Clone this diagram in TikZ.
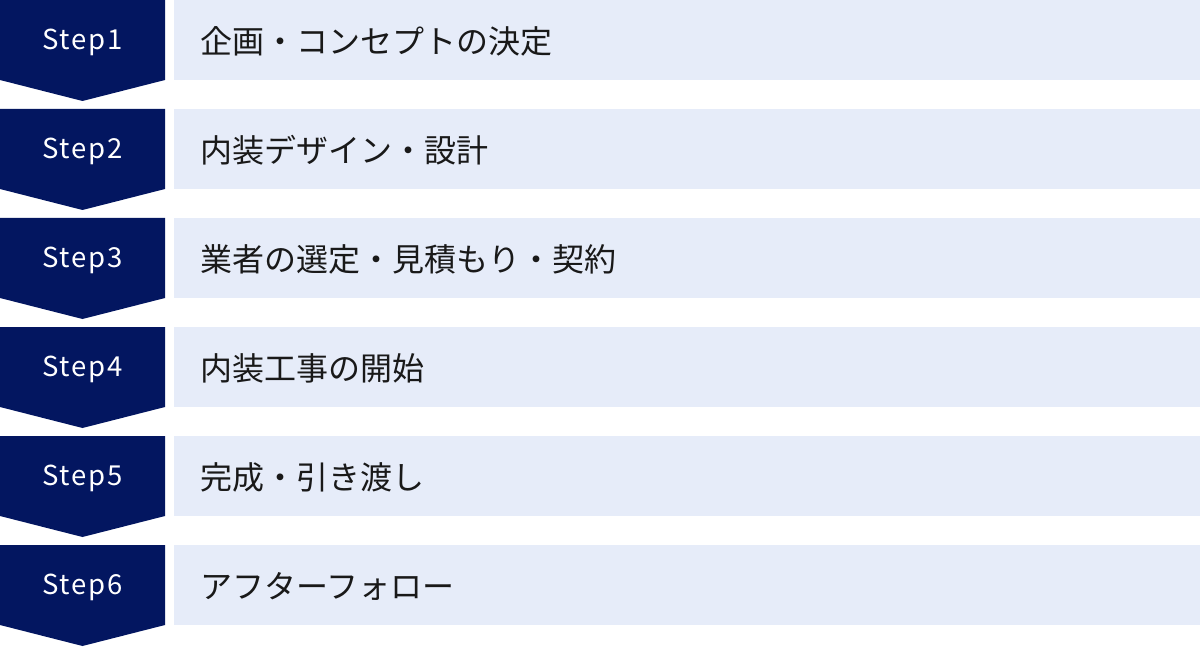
\documentclass[tikz,border=0pt]{standalone}
\usepackage{fontspec}
\newfontfamily\jpfont{Noto Sans CJK JP}
\newfontfamily\stepfont[LetterSpace=6]{Noto Sans CJK JP}
\definecolor{stepnavy}{HTML}{031660}
\definecolor{taskpale}{HTML}{E6ECF9}
\tikzset{
  steplabel/.style={text=white,font=\stepfont\fontsize{27.5}{27.5}\selectfont},
  tasklabel/.style={anchor=west,inner sep=0pt,text=black!90,font=\jpfont\fontsize{32}{32}\selectfont}
}
\begin{document}
\begin{tikzpicture}[x=1pt,y=-1pt]
        \useasboundingbox (0,0) rectangle (1200,647);

        \fill[stepnavy] (0,0) -- (165,0) -- (165,80) -- (82.5,101) -- (0,80) -- cycle;
        \fill[taskpale] (174,0) rectangle (1200,80);
        \node[steplabel] (step1) at (82.5,42) {Step1};
        \node[tasklabel] (task1) at (200,41) {企画・コンセプトの決定};

        \fill[stepnavy] (0,109) -- (165,109) -- (165,189) -- (82.5,210) -- (0,189) -- cycle;
        \fill[taskpale] (174,109) rectangle (1200,189);
        \node[steplabel] (step2) at (82.5,151) {Step2};
        \node[tasklabel] (task2) at (200,150) {内装デザイン・設計};

        \fill[stepnavy] (0,218) -- (165,218) -- (165,298) -- (82.5,319) -- (0,298) -- cycle;
        \fill[taskpale] (174,218) rectangle (1200,298);
        \node[steplabel] (step3) at (82.5,260) {Step3};
        \node[tasklabel] (task3) at (200,259) {業者の選定・見積もり・契約};

        \fill[stepnavy] (0,327) -- (165,327) -- (165,407) -- (82.5,428) -- (0,407) -- cycle;
        \fill[taskpale] (174,327) rectangle (1200,407);
        \node[steplabel] (step4) at (82.5,369) {Step4};
        \node[tasklabel] (task4) at (200,368) {内装工事の開始};

        \fill[stepnavy] (0,436) -- (165,436) -- (165,516) -- (82.5,537) -- (0,516) -- cycle;
        \fill[taskpale] (174,436) rectangle (1200,516);
        \node[steplabel] (step5) at (82.5,478) {Step5};
        \node[tasklabel] (task5) at (200,477) {完成・引き渡し};

        \fill[stepnavy] (0,545) -- (165,545) -- (165,625) -- (82.5,646) -- (0,625) -- cycle;
        \fill[taskpale] (174,545) rectangle (1200,625);
        \node[steplabel] (step6) at (82.5,587) {Step6};
        \node[tasklabel] (task6) at (200,586) {アフターフォロー};

      \end{tikzpicture}
\end{document}
